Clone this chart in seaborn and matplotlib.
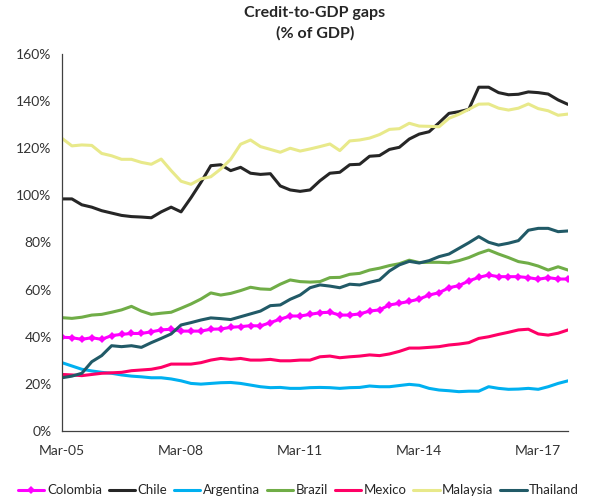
import numpy as np
import pandas as pd
import matplotlib
matplotlib.use('Agg')
import matplotlib.pyplot as plt
import seaborn as sns

# quarterly data, Mar-05 .. Dec-17 (52 quarters), % of GDP
quarters = pd.period_range('2005Q1', '2017Q4', freq='Q')
tick_pos = [0, 12, 24, 36, 48]
tick_labels = ['Mar-05', 'Mar-08', 'Mar-11', 'Mar-14', 'Mar-17']

colombia = [39.8, 39.6, 38.9, 39.6, 38.9, 40.5, 41.0, 41.4, 41.4, 42.1,
            42.9, 43.2, 42.4, 42.4, 42.4, 43.2, 43.3, 44.0, 44.3, 44.7,
            44.6, 46.0, 47.5, 48.8, 48.8, 49.5, 50.2, 50.4, 49.2, 49.2,
            49.7, 50.9, 51.4, 53.5, 54.2, 55.0, 56.0, 57.7, 58.7, 60.8,
            61.7, 63.7, 65.2, 66.2, 65.5, 65.5, 65.5, 65.1, 64.4, 65.1,
            64.5, 64.5]
chile = [98.5, 98.5, 96.0, 95.0, 93.5, 92.5, 91.5, 91.0, 90.8, 90.5,
         93.0, 95.0, 93.0, 99.0, 105.5, 112.6, 113.0, 110.5, 111.9, 109.4,
         108.9, 109.2, 104.0, 102.3, 101.7, 102.3, 106.2, 109.4, 109.8, 113.0,
         113.2, 116.6, 116.9, 119.5, 120.4, 123.9, 126.0, 127.0, 130.8, 134.8,
         135.5, 136.5, 145.9, 145.9, 143.6, 142.7, 142.9, 143.9, 143.6, 143.0,
         140.5, 138.6]
argentina = [29.0, 27.6, 26.2, 25.5, 24.9, 24.5, 23.8, 23.3, 23.0, 22.6,
             22.6, 22.1, 21.3, 20.2, 19.9, 20.2, 20.5, 20.6, 20.2, 19.5,
             18.8, 18.4, 18.5, 18.1, 18.1, 18.4, 18.5, 18.4, 18.1, 18.4,
             18.5, 19.1, 18.8, 18.8, 19.3, 19.8, 19.4, 18.1, 17.4, 17.1,
             16.7, 16.9, 16.9, 18.8, 18.1, 17.7, 17.8, 18.1, 17.7, 18.8,
             20.2, 21.3]
brazil = [48.1, 47.8, 48.3, 49.2, 49.5, 50.4, 51.4, 52.9, 50.9, 49.5,
          50.0, 50.4, 52.1, 53.9, 56.0, 58.6, 57.7, 58.4, 59.6, 61.0,
          60.3, 60.1, 62.3, 64.1, 63.4, 63.2, 63.4, 65.1, 65.2, 66.5,
          66.9, 68.3, 69.1, 70.2, 71.0, 72.5, 71.5, 71.6, 71.6, 71.4,
          72.3, 73.6, 75.4, 76.8, 75.1, 73.6, 71.9, 71.2, 70.0, 68.3,
          69.7, 68.3]
mexico = [24.0, 23.8, 23.5, 24.0, 24.5, 24.7, 24.9, 25.6, 25.9, 26.2,
          27.0, 28.4, 28.4, 28.4, 29.0, 30.1, 30.8, 30.4, 30.8, 30.1,
          30.1, 30.4, 29.8, 29.8, 30.1, 30.1, 31.5, 31.8, 31.1, 31.5,
          31.8, 32.3, 32.0, 32.7, 33.8, 35.2, 35.2, 35.5, 35.8, 36.5,
          36.9, 37.5, 39.3, 40.0, 41.0, 41.9, 42.9, 43.2, 41.2, 40.7,
          41.5, 42.9]
malaysia = [124.2, 121.0, 121.4, 121.2, 117.8, 116.8, 115.3, 115.3, 114.0, 113.2,
            115.4, 110.5, 106.0, 104.7, 107.0, 107.9, 111.2, 115.3, 121.7, 123.5,
            120.7, 119.5, 118.3, 120.0, 118.8, 119.7, 120.7, 121.8, 119.0, 123.1,
            123.5, 124.3, 125.8, 128.0, 128.3, 130.6, 129.4, 129.3, 129.1, 132.7,
            134.4, 136.5, 138.7, 138.8, 137.0, 136.2, 137.0, 138.8, 136.8, 135.9,
            134.0, 134.5]
thailand = [22.6, 23.3, 24.5, 29.4, 32.0, 36.2, 35.8, 36.2, 35.5, 37.5,
            39.3, 41.2, 45.0, 46.0, 47.1, 48.0, 47.7, 47.3, 48.5, 49.7,
            50.9, 53.2, 53.5, 55.9, 57.7, 60.8, 62.0, 61.5, 60.8, 62.3,
            62.0, 63.1, 64.1, 67.9, 70.5, 72.0, 71.3, 72.3, 74.0, 75.1,
            77.5, 79.9, 82.5, 80.1, 78.9, 79.7, 80.8, 85.2, 86.0, 86.0,
            84.6, 84.9]

countries = ['Colombia', 'Chile', 'Argentina', 'Brazil', 'Mexico', 'Malaysia', 'Thailand']
values = [colombia, chile, argentina, brazil, mexico, malaysia, thailand]
colors = ['#FF00FF', '#262626', '#00B0F0', '#70AD47', '#FF0066', '#E8E98A', '#215A67']

df = pd.DataFrame({'t': np.arange(len(quarters))})
for name, vals in zip(countries, values):
    df[name] = vals
long = df.melt(id_vars='t', var_name='country', value_name='gap')

sns.set_theme(style='white')
plt.rcParams['font.family'] = ['Lato', 'DejaVu Sans']

fig = plt.figure(figsize=(6.03, 5.04), dpi=100)
ax = fig.add_axes([0.1028, 0.1448, 0.8392, 0.7481])

for name, col in zip(countries, colors):
    sub = long[long['country'] == name]
    if name == 'Colombia':
        sns.lineplot(data=sub, x='t', y='gap', ax=ax, color=col, lw=2.2,
                     marker='D', markersize=4.5, markeredgewidth=0, label=name)
    else:
        sns.lineplot(data=sub, x='t', y='gap', ax=ax, color=col, lw=2.2, label=name)

ax.set_xlim(0, 51)
ax.set_ylim(0, 160)
ax.set_yticks(range(0, 161, 20))
ax.set_yticklabels([f'{v}%' for v in range(0, 161, 20)], fontsize=10, color='#333333')
ax.set_xticks(tick_pos)
ax.set_xticklabels(tick_labels, fontsize=10, color='#333333')
ax.set_xlabel('')
ax.set_ylabel('')
ax.tick_params(axis='both', direction='out', length=4, width=0.8, color='#404040')
ax.tick_params(axis='x', pad=6)
for s in ['top', 'right']:
    ax.spines[s].set_visible(False)
for s in ['left', 'bottom']:
    ax.spines[s].set_color('#404040')
    ax.spines[s].set_linewidth(0.9)

ax.set_title('Credit-to-GDP gaps\n(% of GDP)', fontsize=11.5, fontweight='bold',
             pad=12, linespacing=1.5)

ax.get_legend().remove()
handles, labels = ax.get_legend_handles_labels()
fig.legend(handles, labels, loc='center', bbox_to_anchor=(0.495, 0.027), ncol=7,
           frameon=False, fontsize=9.5, handlelength=2.0, handletextpad=0.2,
           columnspacing=0.5)

fig.savefig('out.png', dpi=100)
